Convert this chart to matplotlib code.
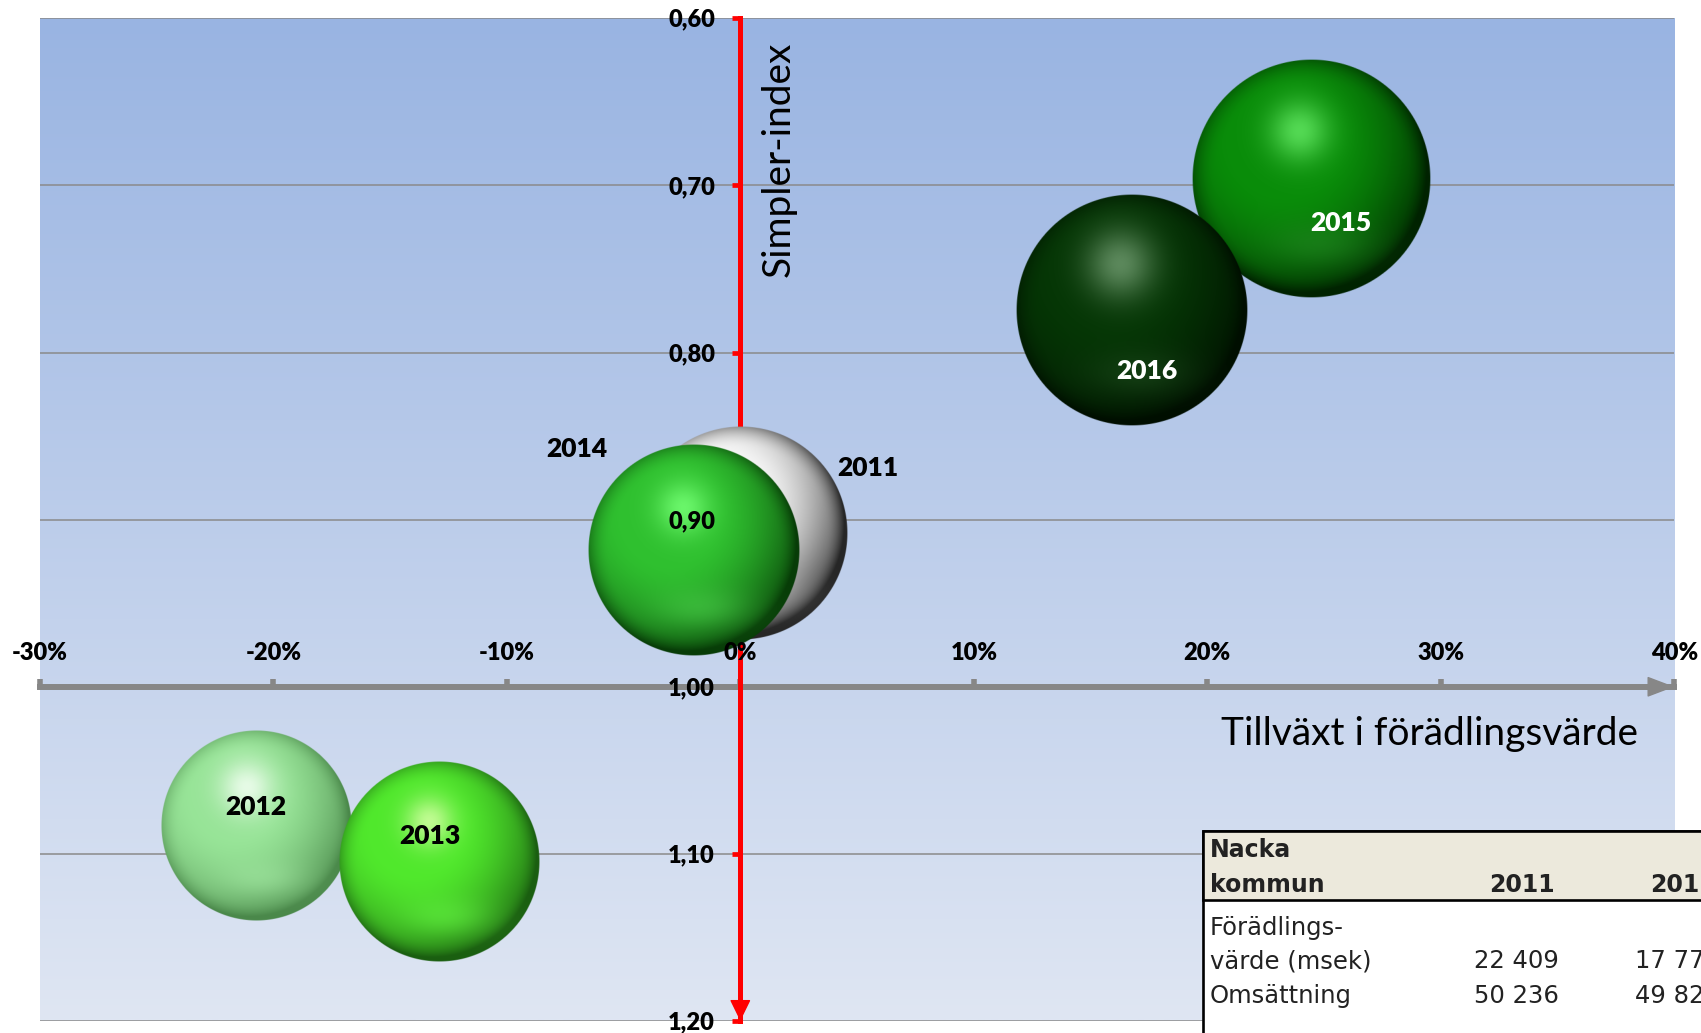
import numpy as np
import matplotlib
matplotlib.use("Agg")
import matplotlib.pyplot as plt
from matplotlib.patches import Rectangle
from matplotlib.colors import to_rgb

# ---------------- data ----------------
years = ["2011", "2012", "2013", "2014", "2015", "2016"]
growth = [0.0, -20.75, -12.9, -2.0, 24.46, 16.74]          # Tillväxt i förädlingsvärde (%)
simpler = [0.908, 1.083, 1.105, 0.918, 0.696, 0.775]        # Simpler-index
bubble_size = [22409, 17775, 19700, 22030, 28010, 26300]    # förädlingsvärde (msek)

xticks = [-30, -20, -10, 0, 10, 20, 30, 40]
xtick_labels = ["-30%", "-20%", "-10%", "0%", "10%", "20%", "30%", "40%"]
yticks = [0.60, 0.70, 0.80, 0.90, 1.00, 1.10, 1.20]
ytick_labels = ["0,60", "0,70", "0,80", "0,90", "1,00", "1,10", "1,20"]

table_header = ["Nacka\nkommun", "2011", "2012"]
table_row_labels = ["Förädlings-\nvärde (msek)", "Omsättning"]
table_col_2011 = ["22 409", "50 236"]
table_col_2012 = ["17 775", "49 825"]

# ---------------- styles ----------------
sphere_colors = [
    # base, highlight, dark rim, bottom reflection, highlight size
    ("#f3f3f3", "#ffffff", "#262626", "#d8d8d8", 0.20),
    ("#97e497", "#f4fff4", "#4a884a", "#a8eea8", 0.20),
    ("#50e82c", "#d2ffa2", "#1a5e10", "#6cff4a", 0.17),
    ("#2fc02f", "#74ff74", "#073c07", "#52d852", 0.18),
    ("#098c09", "#60e660", "#002200", "#2a8f2a", 0.18),
    ("#053605", "#6a966a", "#000e00", "#245224", 0.21),
]
label_colors = ["black", "black", "black", "black", "white", "white"]
label_offsets = [(91.7, 41.2), (0, 7.5), (-6.6, 13.2), (-84.1, 66.8), (21.2, -37.9), (11.4, -49.1)]
px_per_sqrt_size = 0.7128

W, H = 1701, 1033
fig = plt.figure(figsize=(W / 100, H / 100), dpi=100)
fig.patch.set_facecolor("white")
ax_left, ax_right, ax_top, ax_bottom = 39.8, 1674.3, 18.3, 1021.0
ax = fig.add_axes([ax_left / W, (H - ax_bottom) / H, (ax_right - ax_left) / W, (ax_bottom - ax_top) / H])
ax.set_xlim(xticks[0], xticks[-1])
ax.set_ylim(yticks[-1], yticks[0])
ax.set_autoscale_on(False)
ax.patch.set_visible(False)

# background gradient
top_c = np.array(to_rgb("#99b4e2"))
bot_c = np.array(to_rgb("#dfe6f3"))
t = np.linspace(0, 1, 256)[:, None, None]
grad = top_c * (1 - t) + bot_c * t
ax.imshow(grad, extent=[xticks[0], xticks[-1], yticks[-1], yticks[0]], origin="upper",
          aspect="auto", zorder=-10, interpolation="bilinear")

# gridlines
for yv in yticks:
    ax.axhline(yv, color="#8a8a8a", lw=1.1, zorder=0.3)

# spines / axes
for s in ["bottom", "right"]:
    ax.spines[s].set_visible(False)
ax.spines["top"].set_position(("data", 1.0))
ax.spines["top"].set_color("#878787")
ax.spines["top"].set_linewidth(4.3)
ax.spines["top"].set_zorder(1)
ax.spines["left"].set_position(("data", 0))
ax.spines["left"].set_color("#ff0000")
ax.spines["left"].set_linewidth(3.6)
ax.spines["left"].set_zorder(1.2)
ax.set_axisbelow(True)
ax.xaxis.set_ticks_position("top")
ax.yaxis.set_ticks_position("left")
ax.set_xticks(xticks)
ax.set_yticks(yticks)
ax.tick_params(axis="x", direction="out", length=6, width=4, color="#878787",
               labeltop=False, labelbottom=False)
ax.tick_params(axis="y", direction="out", length=6, width=3.4, color="#ff0000",
               labelleft=False)

# arrow heads
ax.annotate("", xy=(xticks[-1], 1.0), xytext=(xticks[-1] - 2, 1.0),
            arrowprops=dict(arrowstyle="-|>,head_length=0.58,head_width=0.22", mutation_scale=30,
                            color="#878787", lw=1, shrinkA=0, shrinkB=0),
            zorder=1.5, annotation_clip=False)
ax.annotate("", xy=(0, yticks[-1]), xytext=(0, yticks[-1] - 0.05),
            arrowprops=dict(arrowstyle="-|>,head_length=0.45,head_width=0.22", mutation_scale=30,
                            color="#ff0000", lw=1, shrinkA=0, shrinkB=0),
            zorder=1.5, annotation_clip=False)


def sphere_img(base, light, dark, refl, hs, n=360):
    c = np.linspace(-1, 1, n)
    U, V = np.meshgrid(c, c)
    R = np.sqrt(U ** 2 + V ** 2)
    base, light, dark, refl = [np.array(to_rgb(cc)) for cc in (base, light, dark, refl)]
    d = np.sqrt((U + 0.25) ** 2 + (V + 0.3) ** 2)
    k = np.clip((d - 0.45) / 0.95, 0, 1) ** 1.6
    rim = np.clip((R - 0.8) / 0.2, 0, 1) ** 2
    k = np.clip(k + 0.35 * rim, 0, 1)
    col = base * (1 - k)[..., None] + dark * k[..., None]
    b = 0.45 * np.exp(-((U - 0.08) ** 2 / (2 * 0.32 ** 2) + (V - 0.55) ** 2 / (2 * 0.14 ** 2)))
    col = col * (1 - b[..., None]) + refl * b[..., None]
    h = 0.85 * np.exp(-((U + 0.1) ** 2 + (V + 0.4) ** 2) / (2 * hs ** 2))
    col = col * (1 - h[..., None]) + light * h[..., None]
    alpha = np.clip((1 - R) * n / 2, 0, 1)
    return np.dstack([col, alpha])


inv = ax.transData.inverted()
for i, (xv, yv, sz) in enumerate(zip(growth, simpler, bubble_size)):
    r = px_per_sqrt_size * np.sqrt(sz)
    px, py = ax.transData.transform((xv, yv))
    xl = inv.transform((px - r, py))[0]
    xr = inv.transform((px + r, py))[0]
    yb = inv.transform((px, py - r))[1]
    yt = inv.transform((px, py + r))[1]
    img = sphere_img(*sphere_colors[i])
    ax.imshow(img, extent=[xl, xr, yb, yt], origin="upper", aspect="auto",
              zorder=3 + i * 0.1, interpolation="antialiased")
    ax.annotate(years[i], xy=(xv, yv), xytext=label_offsets[i], textcoords="offset points",
                ha="center", va="baseline", fontsize=19, fontweight="heavy",
                family="Lato", color=label_colors[i], zorder=10)

ax.set_xlim(xticks[0], xticks[-1])
ax.set_ylim(yticks[-1], yticks[0])

# tick labels (drawn above bubbles)
for xv, lab in zip(xticks, xtick_labels):
    ax.annotate(lab, xy=(xv, 1.0), xytext=(0, 19.2), textcoords="offset points",
                ha="center", va="baseline", fontsize=17, fontweight="heavy",
                family="Lato", color="black", zorder=10, annotation_clip=False)
for yv, lab in zip(yticks, ytick_labels):
    ax.annotate(lab, xy=(0, yv), xytext=(-18.2, -6.1), textcoords="offset points",
                ha="right", va="baseline", fontsize=17, fontweight="heavy",
                family="Lato", color="black", zorder=10, annotation_clip=False)

# axis titles
def fx(p):
    return p / W


def fy(p):
    return 1 - p / H


fig.text(fx(790), fy(159), "Simpler-index", rotation=90, rotation_mode="anchor",
         ha="center", va="baseline", fontsize=28, family="Lato", color="black", zorder=5)
fig.text(fx(1429.6), fy(745), "Tillväxt i förädlingsvärde", ha="center", va="baseline",
         fontsize=28, family="Lato", color="black", zorder=5)

# table
tbl_left, tbl_top, tbl_head = 1203, 831, 900
fig.add_artist(Rectangle((fx(tbl_left), fy(1120)), fx(1800 - tbl_left), fy(tbl_top) - fy(1120),
                         transform=fig.transFigure, facecolor="white", edgecolor="black",
                         lw=1.9, zorder=6))
fig.add_artist(Rectangle((fx(tbl_left), fy(tbl_head)), fx(1800 - tbl_left), fy(tbl_top) - fy(tbl_head),
                         transform=fig.transFigure, facecolor="#ece9dc", edgecolor="black",
                         lw=1.9, zorder=6.1))
tc = "#222222"
head_lines = table_header[0].split("\n")
fig.text(fx(1210), fy(857), head_lines[0], ha="left", va="baseline", fontsize=17,
         fontweight="bold", family="DejaVu Sans", color=tc, zorder=7)
fig.text(fx(1210), fy(891.7), head_lines[1], ha="left", va="baseline", fontsize=17,
         fontweight="bold", family="DejaVu Sans", color=tc, zorder=7)
col_right = [1555, 1715.5]
for cr, lab in zip(col_right, table_header[1:]):
    fig.text(fx(cr), fy(891.7), lab, ha="right", va="baseline", fontsize=17,
             fontweight="bold", family="DejaVu Sans", color=tc, zorder=7)
row_lines = table_row_labels[0].split("\n")
fig.text(fx(1210), fy(935), row_lines[0], ha="left", va="baseline", fontsize=17.5,
         family="DejaVu Sans", color=tc, zorder=7)
fig.text(fx(1210), fy(968.3), row_lines[1], ha="left", va="baseline", fontsize=17.5,
         family="DejaVu Sans", color=tc, zorder=7)
fig.text(fx(1210), fy(1002.7), table_row_labels[1], ha="left", va="baseline", fontsize=17.5,
         family="DejaVu Sans", color=tc, zorder=7)
val_right = [1559.3, 1719.8]
for cr, col in zip(val_right, [table_col_2011, table_col_2012]):
    fig.text(fx(cr), fy(968.3), col[0], ha="right", va="baseline", fontsize=17.5,
             family="DejaVu Sans", color=tc, zorder=7)
    fig.text(fx(cr), fy(1002.7), col[1], ha="right", va="baseline", fontsize=17.5,
             family="DejaVu Sans", color=tc, zorder=7)

fig.savefig("out.png", dpi=100)
